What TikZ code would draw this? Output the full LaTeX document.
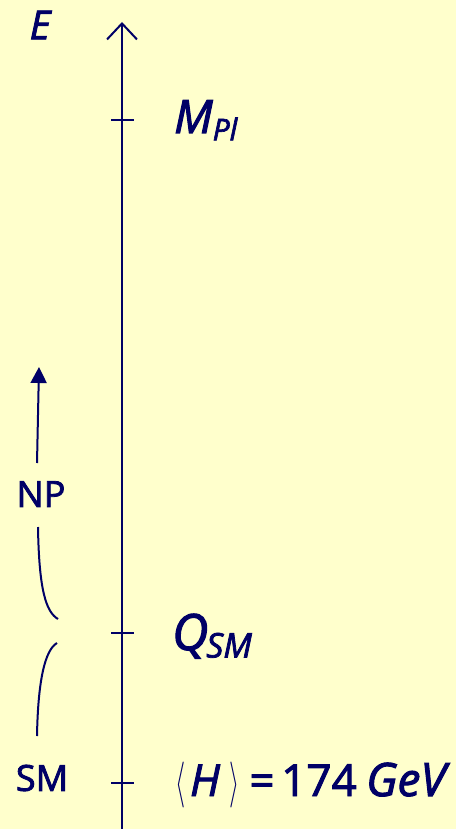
\documentclass[tikz,border=0pt]{standalone}
\usepackage{fontspec}
\setmainfont{Open Sans}[FakeBold=2.2]
\usetikzlibrary{arrows.meta}
\definecolor{bg}{HTML}{FFFFCC}
\definecolor{ink}{HTML}{000066}
\begin{document}
\begin{tikzpicture}[x=1pt,y=-1pt,
  every node/.style={text=ink,inner sep=0pt},
  axisline/.style={draw=ink,line width=2pt},
  curve/.style={draw=ink,line width=2pt},
  tick/.style={draw=ink,line width=2pt}]
\fill[bg] (0,0) rectangle (456,829);
\useasboundingbox (0,0) rectangle (456,829);
% axis
\coordinate (abot) at (122,829);
\coordinate (atop) at (122,22);
\draw[axisline,-{Straight Barb[length=16pt,width=30pt,line width=2pt]}] (abot) -- (atop);
% ticks
\foreach \n/\y in {pl/120,q/633,h/783}{
  \coordinate (\n l) at (111,\y);
  \coordinate (\n r) at (134,\y);
  \draw[tick] (\n l) -- (\n r);
}
% labels
\node (E) at (40,25) {\fontsize{40}{40}\selectfont\itshape E};
\node[anchor=base west] (Mpl) at (174,133) {\fontsize{46}{46}\selectfont\itshape M\raisebox{-0.16em}{\fontsize{30}{30}\selectfont Pl}};
\node[anchor=base west] (Qsm) at (172,650) {\fontsize{50}{50}\selectfont\itshape Q\kern-2pt\raisebox{-0.15em}{\fontsize{34}{34}\selectfont SM}};
% <H> = 174 GeV
\node (hb1) at (181,785) {\scalebox{2.6}[4.6]{$\langle$}};
\node[anchor=base] (hH) at (205,796) {\fontsize{44}{44}\selectfont\itshape H};
\node (hb2) at (235,785) {\scalebox{2.6}[4.6]{$\rangle$}};
\node[anchor=base] (heq) at (262,796) {\fontsize{44}{44}\selectfont =};
\node[anchor=base] (h174) at (319,796) {\fontsize{44}{44}\selectfont 174};
\node[anchor=base] (hgev) at (406,796) {\fontsize{46}{46}\selectfont\itshape GeV};
\node (NP) at (41,494) {\fontsize{36}{36}\selectfont NP};
\node (SM) at (42,778) {\fontsize{36}{36}\selectfont SM};
% NP arrow
\coordinate (npt) at (37,463);
\coordinate (nph) at (39,367);
\draw[curve,-{Triangle[length=16pt,width=16pt]}] (npt) -- (nph);
% curves
\coordinate (c1a) at (38,527);
\coordinate (c1b) at (58,619);
\draw[curve] (c1a) .. controls (39,590) and (46,612) .. (c1b);
\coordinate (c2a) at (57,643);
\coordinate (c2b) at (37,736);
\draw[curve] (c2a) .. controls (45,650) and (38,680) .. (c2b);
\end{tikzpicture}
\end{document}
